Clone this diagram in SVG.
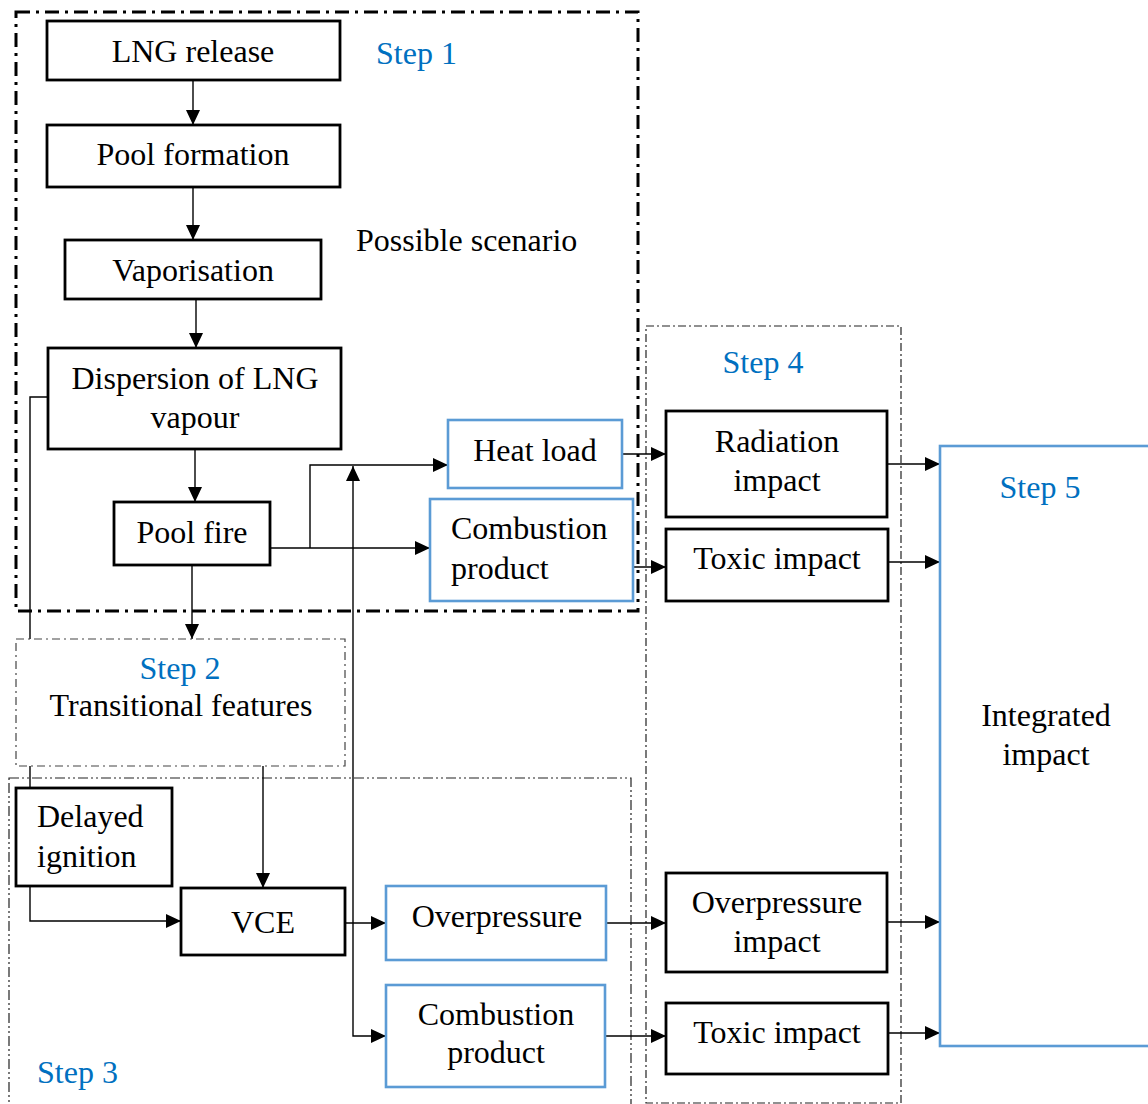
<svg xmlns="http://www.w3.org/2000/svg" width="1148" height="1104" viewBox="0 0 1148 1104">
<style>
  text { font-family: "Liberation Serif", "Times New Roman", serif; font-size: 32px; fill: #000; }
  .c { text-anchor: middle; }
  .step { fill: #0070C0; }
  .bk { fill: #fff; stroke: #000; stroke-width: 2.8; }
  .bl { fill: #fff; stroke: #5B9BD5; stroke-width: 2.6; }
  .ln { fill: none; stroke: #000; stroke-width: 1.4; }
  .arr { marker-end: url(#ah); }
  .arrs { marker-start: url(#ahs); }
  .r1 { fill: none; stroke: #000; stroke-width: 3; stroke-dasharray: 14 6 3 6; }
  .r2 { fill: #fff; stroke: #444; stroke-width: 1.2; stroke-dasharray: 8 4 2 4; }
  .r3 { fill: none; stroke: #222; stroke-width: 1.2; stroke-dasharray: 10 3 2 3 2 3; }
  .r4 { fill: none; stroke: #222; stroke-width: 1.2; stroke-dasharray: 8 3 2 3; }
</style>
<defs>
  <marker id="ah" markerUnits="userSpaceOnUse" markerWidth="16" markerHeight="16" viewBox="0 0 16 16" refX="15" refY="8" orient="auto">
    <path d="M0,1 L15,8 L0,15 Z" fill="#000"/>
  </marker>
  <marker id="ahs" markerUnits="userSpaceOnUse" markerWidth="16" markerHeight="16" viewBox="0 0 16 16" refX="15" refY="8" orient="auto-start-reverse">
    <path d="M0,1 L15,8 L0,15 Z" fill="#000"/>
  </marker>
</defs>
<rect width="1148" height="1104" fill="#fff"/>

<g id="regions">
  <rect id="step1-region" x="16" y="12" width="622" height="599" class="r1"/>
  <rect id="step3-region" x="9" y="778" width="622" height="340" class="r3"/>
  <rect id="step4-region" x="646" y="326" width="255" height="777" class="r4"/>
</g>

<g id="connectors">
  <line class="ln arr" x1="193" y1="80" x2="193" y2="125"/>
  <line class="ln arr" x1="193" y1="187" x2="193" y2="240"/>
  <line class="ln arr" x1="196" y1="299" x2="196" y2="348"/>
  <line class="ln arr" x1="195" y1="449" x2="195" y2="502"/>
  <line class="ln arr" x1="192" y1="565" x2="192" y2="639"/>
  <polyline class="ln" points="48,397 30,397 30,639"/>
  <line class="ln" x1="30" y1="766" x2="30" y2="788"/>
  <line class="ln arr" x1="270" y1="548" x2="430" y2="548"/>
  <polyline class="ln arr" points="310,548 310,465 448,465"/>
  <polyline class="ln arrs arr" points="353,466 353,1036 386,1036"/>
  <line class="ln arr" x1="263" y1="766" x2="263" y2="888"/>
  <polyline class="ln arr" points="30,886 30,921 181,921"/>
  <line class="ln arr" x1="345" y1="923" x2="386" y2="923"/>
  <line class="ln arr" x1="622" y1="454" x2="666" y2="454"/>
  <line class="ln arr" x1="633" y1="567" x2="666" y2="567"/>
  <line class="ln arr" x1="606" y1="923" x2="666" y2="923"/>
  <line class="ln arr" x1="605" y1="1036" x2="666" y2="1036"/>
  <line class="ln arr" x1="887" y1="464" x2="940" y2="464"/>
  <line class="ln arr" x1="888" y1="562" x2="940" y2="562"/>
  <line class="ln arr" x1="887" y1="922" x2="940" y2="922"/>
  <line class="ln arr" x1="888" y1="1033" x2="940" y2="1033"/>
</g>

<g id="step2">
  <rect x="16" y="639" width="329" height="127" class="r2"/>
  <text x="180" y="679" class="c step">Step 2</text>
  <text x="181" y="716" class="c">Transitional features</text>
</g>

<g id="labels">
  <text x="376" y="64" class="step">Step 1</text>
  <text x="356" y="251">Possible scenario</text>
  <text x="37" y="1083" class="step">Step 3</text>
  <text x="763" y="373" class="c step">Step 4</text>
</g>

<g id="lng-release">
  <rect x="47" y="21" width="293" height="59" class="bk"/>
  <text x="193" y="62" class="c">LNG release</text>
</g>
<g id="pool-formation">
  <rect x="47" y="125" width="293" height="62" class="bk"/>
  <text x="193" y="165" class="c">Pool formation</text>
</g>
<g id="vaporisation">
  <rect x="65" y="240" width="256" height="59" class="bk"/>
  <text x="193" y="281" class="c">Vaporisation</text>
</g>
<g id="dispersion">
  <rect x="48" y="348" width="293" height="101" class="bk"/>
  <text x="195" y="389" class="c">Dispersion of LNG</text>
  <text x="195" y="428" class="c">vapour</text>
</g>
<g id="pool-fire">
  <rect x="114" y="502" width="156" height="63" class="bk"/>
  <text x="192" y="543" class="c">Pool fire</text>
</g>
<g id="heat-load">
  <rect x="448" y="420" width="174" height="68" class="bl"/>
  <text x="535" y="461" class="c">Heat load</text>
</g>
<g id="combustion-product-1">
  <rect x="430" y="499" width="203" height="102" class="bl"/>
  <text x="451" y="539">Combustion</text>
  <text x="451" y="579">product</text>
</g>
<g id="delayed-ignition">
  <rect x="16" y="788" width="156" height="98" class="bk"/>
  <text x="37" y="827">Delayed</text>
  <text x="37" y="867">ignition</text>
</g>
<g id="vce">
  <rect x="181" y="888" width="164" height="67" class="bk"/>
  <text x="263" y="933" class="c">VCE</text>
</g>
<g id="overpressure">
  <rect x="386" y="886" width="220" height="74" class="bl"/>
  <text x="497" y="927" class="c">Overpressure</text>
</g>
<g id="combustion-product-2">
  <rect x="386" y="985" width="219" height="102" class="bl"/>
  <text x="496" y="1025" class="c">Combustion</text>
  <text x="496" y="1063" class="c">product</text>
</g>
<g id="radiation-impact">
  <rect x="666" y="411" width="221" height="106" class="bk"/>
  <text x="777" y="452" class="c">Radiation</text>
  <text x="777" y="491" class="c">impact</text>
</g>
<g id="toxic-impact-1">
  <rect x="666" y="529" width="222" height="72" class="bk"/>
  <text x="777" y="569" class="c">Toxic impact</text>
</g>
<g id="overpressure-impact">
  <rect x="666" y="873" width="221" height="99" class="bk"/>
  <text x="777" y="913" class="c">Overpressure</text>
  <text x="777" y="952" class="c">impact</text>
</g>
<g id="toxic-impact-2">
  <rect x="666" y="1003" width="222" height="71" class="bk"/>
  <text x="777" y="1043" class="c">Toxic impact</text>
</g>
<g id="integrated-impact">
  <rect x="940" y="446" width="230" height="600" class="bl"/>
  <text x="1040" y="498" class="c step">Step 5</text>
  <text x="1046" y="726" class="c">Integrated</text>
  <text x="1046" y="765" class="c">impact</text>
</g>
</svg>
